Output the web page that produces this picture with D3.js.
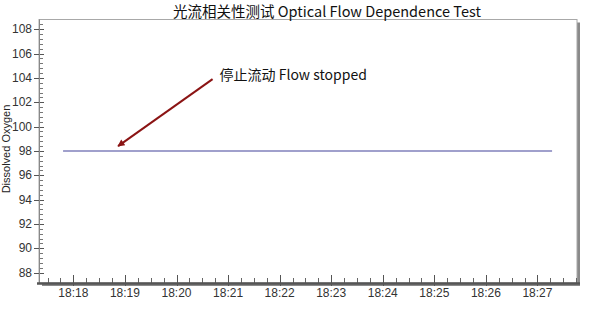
<!DOCTYPE html>
<html>
<head>
<meta charset="utf-8">
<script src="https://cdn.jsdelivr.net/npm/d3@7"></script>
<style>
  html, body { margin: 0; padding: 0; background: #fff; }
  svg { display: block; }
</style>
</head>
<body>
<svg id="chart" width="600" height="310"></svg>
<script>
// Dissolved oxygen readings over time (clock times, same day)
const times = ["18:17:48", "18:18:45", "18:19:42", "18:20:39", "18:21:36", "18:22:33",
               "18:23:30", "18:24:27", "18:25:24", "18:26:21", "18:27:17"];
const oxygen = [98, 98, 98, 98, 98, 98, 98, 98, 98, 98, 98];

// Axis ticks
const xTickLabels = ["18:18", "18:19", "18:20", "18:21", "18:22", "18:23", "18:24", "18:25", "18:26", "18:27"];
const yTickValues = [88, 90, 92, 94, 96, 98, 100, 102, 104, 106, 108];

// Axis ranges
const xRange = ["18:17:20", "18:27:46"];
const yRange = [87.15, 108.8];

// Annotation: arrow from the label down to the flat trace
const noteText = "停止流动 Flow stopped";
const noteFrom = { t: "18:20:42", v: 103.9 };
const noteTo = { t: "18:18:52", v: 98.4 };

const title = "光流相关性测试 Optical Flow Dependence Test";
const yLabel = "Dissolved Oxygen";

const parse = s => d3.timeParse("%H:%M:%S")(s);

const svg = d3.select("#chart");
const margin = { left: 39, top: 19.5, right: 577, bottom: 283 };

const x = d3.scaleTime()
  .domain(xRange.map(parse))
  .range([margin.left, margin.right]);
const y = d3.scaleLinear()
  .domain(yRange)
  .range([margin.bottom, margin.top]);

const W = margin.right - margin.left;
const H = margin.bottom - margin.top;

// Frame with drop shadow on the right and bottom
svg.append("rect")
  .attr("x", margin.left + 3).attr("y", margin.top + 3)
  .attr("width", W).attr("height", H)
  .attr("fill", "#8a8a8a");
svg.append("rect")
  .attr("x", margin.left).attr("y", margin.top)
  .attr("width", W).attr("height", H)
  .attr("fill", "#fff")
  .attr("stroke", "#a8a8a8").attr("stroke-width", 1);

// Title
svg.append("text")
  .attr("x", 327).attr("y", 17)
  .attr("text-anchor", "middle")
  .attr("font-family", "'Noto Sans CJK SC', 'Noto Sans', sans-serif")
  .attr("font-size", 14.5)
  .attr("fill", "#111")
  .text(title);

// Y axis label
svg.append("text")
  .attr("transform", `translate(10,149) rotate(-90)`)
  .attr("text-anchor", "middle")
  .attr("font-family", "'Liberation Sans', Arial, sans-serif")
  .attr("font-size", 11)
  .attr("fill", "#222")
  .text(yLabel);

// Y axis: minor ticks every 0.4, major ticks crossing the axis
const yAxisG = svg.append("g");
const yMinor = d3.range(88, 108.8, 0.4);
yAxisG.selectAll("line.minor").data(yMinor).join("line")
  .attr("x1", margin.left).attr("x2", margin.left + 4)
  .attr("y1", d => Math.round(y(d)) + 0.5).attr("y2", d => Math.round(y(d)) + 0.5)
  .attr("stroke", "#777").attr("stroke-width", 1);
yAxisG.selectAll("line.major").data(yTickValues).join("line")
  .attr("x1", margin.left - 5).attr("x2", margin.left + 5)
  .attr("y1", d => Math.round(y(d)) + 0.5).attr("y2", d => Math.round(y(d)) + 0.5)
  .attr("stroke", "#555").attr("stroke-width", 1);
yAxisG.selectAll("text").data(yTickValues).join("text")
  .attr("x", margin.left - 7).attr("y", d => y(d) + 4)
  .attr("text-anchor", "end")
  .attr("font-family", "'Liberation Sans', Arial, sans-serif")
  .attr("font-size", 12)
  .attr("fill", "#333")
  .text(d => d);
yAxisG.append("line")
  .attr("x1", margin.left + 0.5).attr("x2", margin.left + 0.5)
  .attr("y1", margin.top).attr("y2", margin.bottom)
  .attr("stroke", "#888").attr("stroke-width", 1);

// X axis: minor ticks every 15 s, major ticks each minute
const xAxisG = svg.append("g");
const xMinor = d3.timeSecond.every(15).range(x.domain()[0], x.domain()[1]);
xAxisG.selectAll("line.minor").data(xMinor).join("line")
  .attr("x1", d => Math.round(x(d)) + 0.5).attr("x2", d => Math.round(x(d)) + 0.5)
  .attr("y1", margin.bottom - 5).attr("y2", margin.bottom)
  .attr("stroke", "#666").attr("stroke-width", 1);
const xMajor = xTickLabels.map(s => parse(s + ":00"));
xAxisG.selectAll("line.major").data(xMajor).join("line")
  .attr("x1", d => Math.round(x(d)) + 0.5).attr("x2", d => Math.round(x(d)) + 0.5)
  .attr("y1", margin.bottom - 8).attr("y2", margin.bottom + 3)
  .attr("stroke", "#555").attr("stroke-width", 1);
xAxisG.selectAll("text").data(xMajor).join("text")
  .attr("x", d => x(d)).attr("y", margin.bottom + 14)
  .attr("text-anchor", "middle")
  .attr("font-family", "'Liberation Sans', Arial, sans-serif")
  .attr("font-size", 12)
  .attr("fill", "#333")
  .text((d, i) => xTickLabels[i]);
xAxisG.append("line")
  .attr("x1", margin.left - 2).attr("x2", margin.right + 3)
  .attr("y1", margin.bottom + 0.5).attr("y2", margin.bottom + 0.5)
  .attr("stroke", "#555").attr("stroke-width", 2.5);

// Oxygen trace
const series = times.map((t, i) => ({ t: parse(t), v: oxygen[i] }));
svg.append("path")
  .datum(series)
  .attr("fill", "none")
  .attr("stroke", "#a0a0cc")
  .attr("stroke-width", 2)
  .attr("d", d3.line().x(d => x(d.t)).y(d => y(d.v)));

// Annotation arrow
const defs = svg.append("defs");
defs.append("marker")
  .attr("id", "arrowhead")
  .attr("viewBox", "0 0 10 10")
  .attr("refX", 9).attr("refY", 5)
  .attr("markerWidth", 9).attr("markerHeight", 7)
  .attr("markerUnits", "userSpaceOnUse")
  .attr("orient", "auto")
  .append("path")
  .attr("d", "M0,0 L10,5 L0,10 Z")
  .attr("fill", "#8b1414");

svg.append("line")
  .attr("x1", x(parse(noteFrom.t))).attr("y1", y(noteFrom.v))
  .attr("x2", x(parse(noteTo.t))).attr("y2", y(noteTo.v))
  .attr("stroke", "#8b1414").attr("stroke-width", 2)
  .attr("marker-end", "url(#arrowhead)");

svg.append("text")
  .attr("x", x(parse(noteFrom.t)) + 7).attr("y", y(noteFrom.v) + 0.5)
  .attr("font-family", "'Noto Sans CJK SC', 'Noto Sans', sans-serif")
  .attr("font-size", 14)
  .attr("fill", "#111")
  .text(noteText);
</script>
</body>
</html>
